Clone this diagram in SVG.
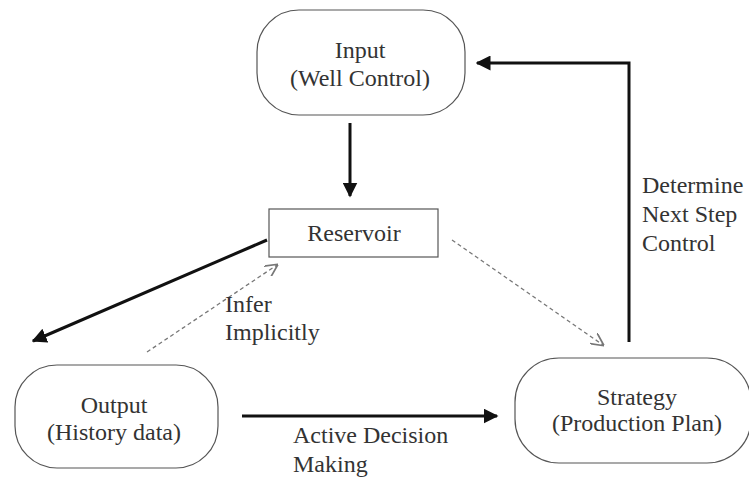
<svg xmlns="http://www.w3.org/2000/svg" width="749" height="478" viewBox="0 0 749 478">
<defs>
<style>
.node{fill:#fff;stroke:#555;stroke-width:1.2}
.t{font-family:"Liberation Serif","Times New Roman",serif;font-size:24px;fill:#333}
.c{text-anchor:middle}
.solid{stroke:#111;stroke-width:3;fill:none}
.dash{stroke:#777;stroke-width:1.3;stroke-dasharray:4,3;fill:none}
</style>
<marker id="ah" viewBox="0 0 10 10" refX="9" refY="5" markerWidth="5" markerHeight="5" orient="auto" markerUnits="strokeWidth">
<path d="M0,0 L10,5 L0,10 z" fill="#111"/>
</marker>
<marker id="oh" viewBox="0 0 10 10" refX="9" refY="5" markerWidth="10" markerHeight="10" orient="auto" markerUnits="strokeWidth">
<path d="M0,0 L10,5 L0,10" fill="none" stroke="#777" stroke-width="1.3"/>
</marker>
</defs>
<rect width="749" height="478" fill="#fff"/>
<g id="connectors">
<line class="solid" x1="350" y1="123" x2="350" y2="196" marker-end="url(#ah)"/>
<line class="solid" x1="267" y1="240" x2="33" y2="341" marker-end="url(#ah)"/>
<line class="dash" x1="147" y1="352" x2="277" y2="265" marker-end="url(#oh)"/>
<line class="dash" x1="452" y1="240" x2="603" y2="345" marker-end="url(#oh)"/>
<line class="solid" x1="242" y1="416" x2="497" y2="416" marker-end="url(#ah)"/>
<polyline class="solid" points="629,342 629,63 477,63" marker-end="url(#ah)"/>
<text class="t" x="225" y="312">Infer</text>
<text class="t" x="225" y="340">Implicitly</text>
<text class="t" x="642" y="193">Determine</text>
<text class="t" x="642" y="222">Next Step</text>
<text class="t" x="642" y="251">Control</text>
<text class="t" x="293" y="443">Active Decision</text>
<text class="t" x="293" y="472">Making</text>
</g>
<g id="input">
<rect class="node" x="257" y="10" width="208" height="105" rx="42" ry="42"/>
<text class="t c" x="360" y="58">Input</text>
<text class="t c" x="360" y="86">(Well Control)</text>
</g>
<g id="reservoir">
<rect class="node" x="269" y="209" width="169" height="48"/>
<text class="t c" x="354" y="241">Reservoir</text>
</g>
<g id="output">
<rect class="node" x="15" y="365" width="203" height="103" rx="42" ry="42"/>
<text class="t c" x="114" y="413">Output</text>
<text class="t c" x="114" y="440">(History data)</text>
</g>
<g id="strategy">
<rect class="node" x="515" y="358" width="236" height="105" rx="44" ry="44"/>
<text class="t c" x="637" y="405">Strategy</text>
<text class="t c" x="637" y="431">(Production Plan)</text>
</g>
</svg>
